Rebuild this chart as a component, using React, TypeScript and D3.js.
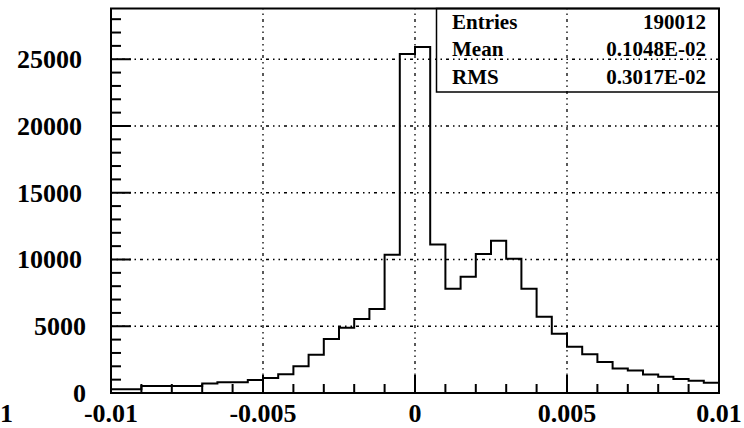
import React from "react";
import * as d3 from "d3";

// Histogram contents: 40 bins of width 0.0005 between -0.01 and 0.01
const binLow = -0.01;
const binHigh = 0.01;
const binCounts = [
  277, 277, 524, 524, 524, 524, 711, 809, 809, 974,
  1124, 1400, 2000, 2860, 4045, 4890, 5540, 6290, 10360, 25390,
  25915, 11120, 7810, 8710, 10410, 11410, 10060, 7810, 5710, 4440,
  3470, 2910, 2320, 1840, 1690, 1390, 1220, 1050, 920, 770,
];

const yMax = 28800;
const yMajorTicks = [0, 5000, 10000, 15000, 20000, 25000];
const yTickLabels = ["0", "5000", "10000", "15000", "20000", "25000"];
const xMajorTicks = [-0.01, -0.005, 0, 0.005, 0.01];
const xTickLabels = ["-0.01", "-0.005", "0", "0.005", "0.01"];
const xGridTicks = [-0.005, 0, 0.005];
const yGridTicks = [5000, 10000, 15000, 20000, 25000];

const statNames = ["Entries", "Mean", "RMS"];
const statValues = ["190012", "0.1048E-02", "0.3017E-02"];

const W = 744;
const H = 428;
const frame = { left: 111, right: 719, top: 8.5, bottom: 393 };
const FONT = "'Liberation Serif', 'DejaVu Serif', serif";

export default function App() {
  const x = d3.scaleLinear().domain([binLow, binHigh]).range([frame.left, frame.right]);
  const y = d3.scaleLinear().domain([0, yMax]).range([frame.bottom, frame.top]);

  const nb = binCounts.length;
  const edges = d3.range(nb + 1).map((i) => binLow + ((binHigh - binLow) * i) / nb);
  const pts: [number, number][] = binCounts.map((c, i) => [edges[i], c]);
  pts.push([edges[nb], binCounts[nb - 1]]);
  const line = d3
    .line<[number, number]>()
    .x((d) => x(d[0]))
    .y((d) => y(d[1]))
    .curve(d3.curveStepAfter);
  const histPath =
    `M${x(binLow)},${y(0)}L` + line(pts)!.slice(1) + `L${x(binHigh)},${y(0)}`;

  const yMinor = d3.range(0, yMax, 1000);
  const xMinor = d3.range(-10, 11).map((v) => v / 1000);

  const gridStyle = {
    stroke: "#000",
    strokeWidth: 1.3,
    strokeDasharray: "1.5 4 1.5 4 3 4",
    fill: "none",
  };

  const box = { left: 436.5, right: frame.right, top: frame.top, bottom: 92 };
  const rowBase = [29, 56, 83.5];

  return (
    <svg
      width={W}
      height={H}
      style={{ position: "absolute", left: 0, top: 0, background: "#fff" }}
      fontFamily={FONT}
      fontWeight="bold"
    >
      <rect x={0} y={0} width={W} height={H} fill="#fff" />

      {/* grid */}
      {yGridTicks.map((t) => (
        <line key={"gy" + t} x1={frame.left} x2={frame.right} y1={y(t)} y2={y(t)} style={gridStyle} />
      ))}
      {xGridTicks.map((t) => (
        <line key={"gx" + t} x1={x(t)} x2={x(t)} y1={frame.bottom} y2={frame.top} style={gridStyle} />
      ))}

      {/* histogram outline */}
      <path d={histPath} fill="none" stroke="#000" strokeWidth={2} />

      {/* frame */}
      <rect
        x={frame.left}
        y={frame.top}
        width={frame.right - frame.left}
        height={frame.bottom - frame.top}
        fill="none"
        stroke="#000"
        strokeWidth={2}
      />

      {/* y ticks */}
      {yMinor.map((t) => {
        const major = t % 5000 === 0;
        return (
          <line
            key={"ty" + t}
            x1={frame.left}
            x2={frame.left + (major ? 20 : 10)}
            y1={y(t)}
            y2={y(t)}
            stroke="#000"
            strokeWidth={2}
          />
        );
      })}
      {/* x ticks */}
      {xMinor.map((t, i) => {
        const major = i % 5 === 0;
        return (
          <line
            key={"tx" + i}
            x1={x(t)}
            x2={x(t)}
            y1={frame.bottom}
            y2={frame.bottom - (major ? 18 : 9)}
            stroke="#000"
            strokeWidth={2}
          />
        );
      })}

      {/* y labels */}
      {yMajorTicks.map((t, i) => (
        <text
          key={"ly" + t}
          x={yTickLabels[i].length < 5 ? 86 : 82}
          y={y(t) + 9}
          textAnchor="end"
          fontSize={26}
        >
          {yTickLabels[i]}
        </text>
      ))}
      {/* x labels */}
      {xMajorTicks.map((t, i) => (
        <text key={"lx" + i} x={x(t)} y={422} textAnchor="middle" fontSize={26}>
          {xTickLabels[i]}
        </text>
      ))}
      <text x={0} y={422} fontSize={26}>
        1
      </text>

      {/* statistics box */}
      <rect
        x={box.left}
        y={box.top}
        width={box.right - box.left}
        height={box.bottom - box.top}
        fill="none"
        stroke="#000"
        strokeWidth={1.5}
      />
      {statNames.map((s, i) => (
        <text key={"sn" + s} x={452} y={rowBase[i]} fontSize={21}>
          {s}
        </text>
      ))}
      {statValues.map((s, i) => (
        <text key={"sv" + i} x={706} y={rowBase[i]} fontSize={21} textAnchor="end">
          {s}
        </text>
      ))}
    </svg>
  );
}
